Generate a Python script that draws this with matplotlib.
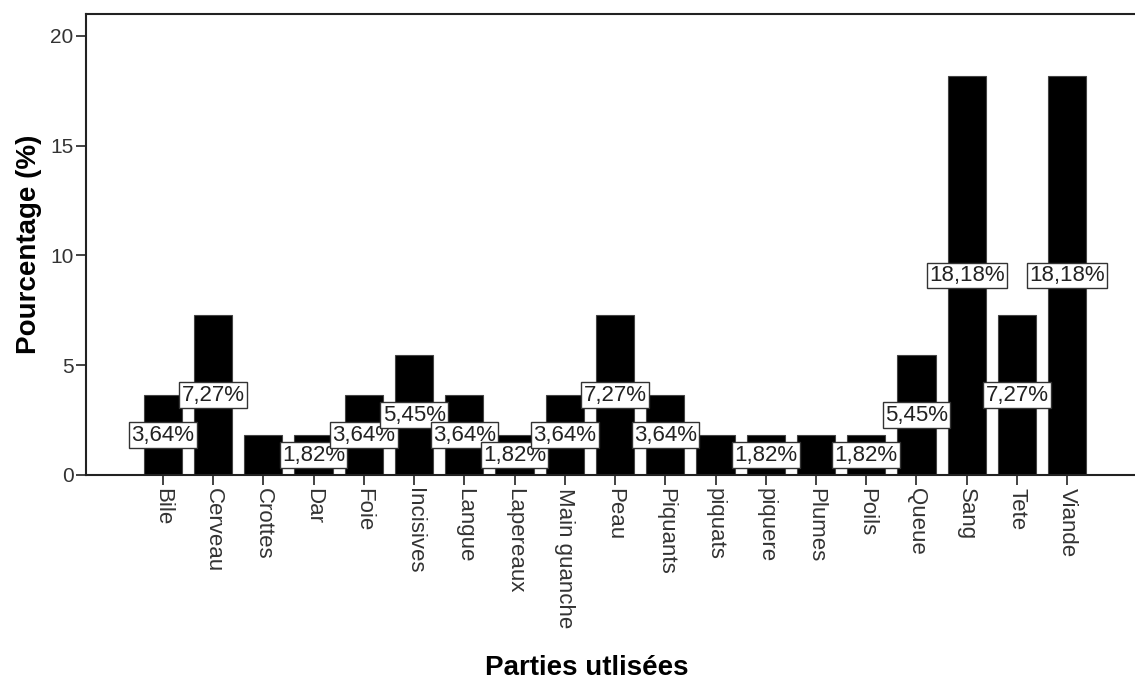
import numpy as np
import matplotlib.pyplot as plt

parts = ["Bile", "Cerveau", "Crottes", "Dar", "Foie", "Incisives", "Langue",
         "Lapereaux", "Main guanche", "Peau", "Piquants", "piquats", "piquere",
         "Plumes", "Poils", "Queue", "Sang", "Tete", "Viande"]
percent = [3.64, 7.27, 1.82, 1.82, 3.64, 5.45, 3.64, 1.82, 3.64, 7.27,
           3.64, 1.82, 1.82, 1.82, 1.82, 5.45, 18.18, 7.27, 18.18]
# labels SPSS left out because they overlapped
label_shown = [True, True, False, True, True, True, True, True, True, True,
               True, False, True, False, True, True, True, True, True]

plt.rcParams["font.family"] = ["Liberation Sans", "DejaVu Sans"]

fig = plt.figure(figsize=(11.35, 6.82), dpi=100)
ax = fig.add_axes([86 / 1135, 207 / 682, 1 - 86 / 1135, 461 / 682])

x = np.arange(len(parts))
ax.bar(x, percent, width=0.76, color="black", edgecolor="#444444", linewidth=0.8)

for xi, val, show in zip(x, percent, label_shown):
    if not show:
        continue
    txt = f"{val:.2f}%".replace(".", ",")
    ax.text(xi, val / 2, txt, ha="center", va="center", fontsize=16,
            color="#222222",
            bbox=dict(boxstyle="square,pad=0.1", facecolor="white",
                      edgecolor="#333333", linewidth=1.0))

ax.set_xlim(-1.53, 19.35)
ax.set_ylim(0, 21)
ax.set_yticks([0, 5, 10, 15, 20])
ax.set_xticks(x)
ax.set_xticklabels(parts, rotation=-90, ha="center", va="top")

ax.spines["right"].set_visible(False)
for s in ["left", "bottom", "top"]:
    ax.spines[s].set_linewidth(1.5)
    ax.spines[s].set_color("#222222")

ax.tick_params(axis="both", labelsize=15, labelcolor="#333333", length=7,
               width=1.2, color="#222222", pad=2)
ax.tick_params(axis="x", labelsize=16)

ax.set_ylabel("Pourcentage (%)", fontsize=20, fontweight="bold", labelpad=6)
ax.set_xlabel("Parties utlisées", fontsize=20, fontweight="bold", va="center")
ax.xaxis.set_label_coords(0.4776, -0.418)

fig.savefig("out.png", dpi=100)
